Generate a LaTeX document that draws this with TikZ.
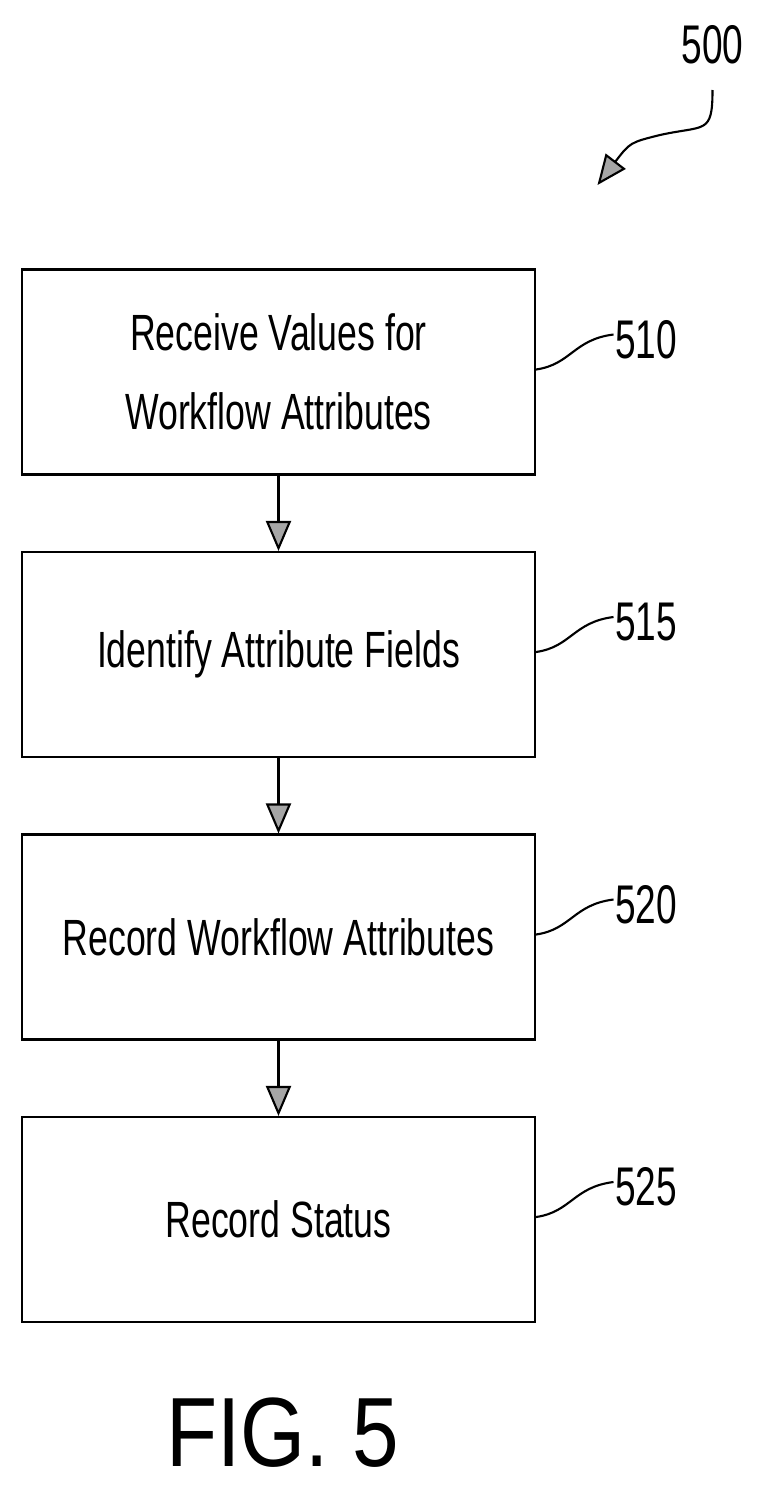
\documentclass[tikz,border=0pt]{standalone}
\usepackage{fontspec}
\setmainfont{Liberation Sans}
\usetikzlibrary{arrows.meta, positioning}

\begin{document}
\begin{tikzpicture}[node distance=5.65cm,on grid,
    stage/.style={draw, line width=1.2pt, minimum width=10.26cm, minimum height=4.1cm,
        align=center, font=\fontsize{29}{45}\selectfont},
    tag/.style={font=\fontsize{31}{34}\selectfont, xscale=0.68},
    flow/.style={-{Triangle[width=0.5cm,length=0.6cm,fill=gray!70]}, line width=1.2pt},
    lead/.style={line width=1.2pt}]
        \useasboundingbox (0,0) rectangle (15.26,-29.76);
        \node[stage]    (s510)  at (5.57,-7.44)    {\scalebox{0.7}[1]{\parbox{12cm}{\centering Receive Values for\\Workflow Attributes}}};
        \node[stage]    (s515)  [below=of s510]     {\scalebox{0.7}[1]{Identify Attribute Fields}};
        \node[stage]    (s520)  [below=of s515]     {\scalebox{0.7}[1]{Record Workflow Attributes}};
        \node[stage]    (s525)  [below=of s520]     {\scalebox{0.7}[1]{Record Status}};

        \draw[flow] (s510) -- (s515);
        \draw[flow] (s515) -- (s520);
        \draw[flow] (s520) -- (s525);

        % reference numerals
        \foreach \n in {510,515,520,525} {
            \node[tag] (t\n) [right=6.65cm of s\n.center, yshift=0.65cm] {\n};
            \draw[lead] (s\n.east) ++(0,0.05) .. controls +(0.7,0.1) and +(-0.8,-0.1) .. ([xshift=0.05cm,yshift=0.1cm]t\n.west);
        }
        \node[tag] (t500) at (14.25,-0.9) {500};
        \coordinate (p500) at (11.95,-3.7);
        \draw[flow] ([yshift=-0.9cm]t500.center) .. controls +(0,-0.9) and +(0.9,0.2) .. (13.2,-2.7)
            .. controls +(-0.6,-0.15) .. (p500);
        \node[font=\fontsize{56}{60}\selectfont, xscale=0.85] (fig) at (5.65,-28.65) {FIG. 5};
\end{tikzpicture}
\end{document}
